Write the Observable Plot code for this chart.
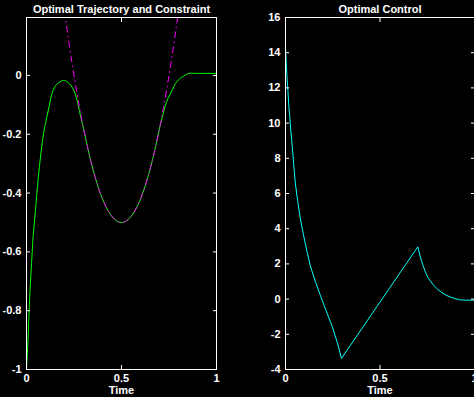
<!DOCTYPE html>
<html><head><meta charset="utf-8">
<script src="https://cdn.jsdelivr.net/npm/d3@7"></script>
<script src="https://cdn.jsdelivr.net/npm/@observablehq/plot@0.6"></script>
<style>
html,body{margin:0;padding:0;background:#000;overflow:hidden;width:474px;height:397px;}
#left{position:absolute;left:0;top:0;width:237px;height:397px;}
#right{position:absolute;left:237px;top:0;width:258px;height:397px;}
svg{max-width:none !important;display:block;}
</style></head><body>
<div id="left"></div><div id="right"></div>
<script>
// ---- data ----
const trajT = [0, 0.004, 0.008, 0.012, 0.018, 0.023, 0.03, 0.035, 0.042, 0.049, 0.061, 0.076, 0.093, 0.102, 0.115, 0.135, 0.15, 0.17, 0.195, 0.215, 0.235, 0.255, 0.27, 0.287, 0.30, 0.32, 0.34, 0.36, 0.38, 0.40, 0.42, 0.44, 0.46, 0.48, 0.50, 0.52, 0.54, 0.56, 0.58, 0.60, 0.62, 0.64, 0.66, 0.68, 0.70, 0.709, 0.72, 0.732, 0.745, 0.758, 0.77, 0.785, 0.80, 0.82, 0.84, 0.855, 0.9, 1.0];
const trajY = [-1, -0.95, -0.9, -0.83, -0.74, -0.68, -0.6, -0.547, -0.495, -0.445, -0.355, -0.264, -0.185, -0.157, -0.118, -0.06, -0.038, -0.024, -0.017, -0.022, -0.035, -0.06, -0.095, -0.146, -0.18, -0.241, -0.295, -0.343, -0.385, -0.42, -0.449, -0.471, -0.487, -0.497, -0.5, -0.497, -0.487, -0.471, -0.449, -0.42, -0.385, -0.343, -0.295, -0.241, -0.18, -0.157, -0.128, -0.1, -0.078, -0.061, -0.045, -0.027, -0.015, -0.005, 0.003, 0.007, 0.007, 0.007];

const conT = [0.18, 0.20, 0.22, 0.24, 0.26, 0.28, 0.30, 0.32, 0.34, 0.36, 0.38, 0.40, 0.42, 0.44, 0.46, 0.48, 0.50, 0.52, 0.54, 0.56, 0.58, 0.60, 0.62, 0.64, 0.66, 0.68, 0.70, 0.72, 0.74, 0.76, 0.78, 0.80, 0.82];
const conY = [0.319, 0.22, 0.127, 0.041, -0.039, -0.113, -0.18, -0.241, -0.295, -0.343, -0.385, -0.42, -0.449, -0.471, -0.487, -0.497, -0.5, -0.497, -0.487, -0.471, -0.449, -0.42, -0.385, -0.343, -0.295, -0.241, -0.18, -0.113, -0.039, 0.041, 0.127, 0.22, 0.319];

const ctrlT = [0, 0.003, 0.008, 0.013, 0.018, 0.023, 0.028, 0.036, 0.043, 0.052, 0.064, 0.078, 0.096, 0.114, 0.131, 0.158, 0.185, 0.211, 0.247, 0.275, 0.296, 0.70, 0.712, 0.726, 0.74, 0.752, 0.779, 0.80, 0.823, 0.85, 0.876, 0.90, 0.92, 0.95, 1.0];
const ctrlY = [14.3, 13.6, 12.6, 11.8, 10.9, 10.3, 9.6, 8.65, 7.7, 6.6, 5.6, 4.6, 3.6, 2.7, 1.9, 1.0, 0.2, -0.55, -1.55, -2.5, -3.37, 2.97, 2.45, 1.95, 1.55, 1.25, 0.85, 0.6, 0.4, 0.22, 0.1, 0.02, -0.04, -0.06, -0.06];

const xTicks = [0, 0.5, 1];
const leftYTicks = [-1, -0.8, -0.6, -0.4, -0.2, 0];
const rightYTicks = [-4, -2, 0, 2, 4, 6, 8, 10, 12, 14, 16];
const leftTitle = "Optimal Trajectory and Constraint";
const rightTitle = "Optimal Control";
const xLabel = "Time";

// ---- helpers ----
const fmt = d => String(d);
const style = {background: "black", color: "white", fontFamily: "'Liberation Sans', Arial, Helvetica, sans-serif", fontSize: "11px", fontWeight: "bold", maxWidth: "none"};

function frameMarks(yTicks, title) {
  return [
    Plot.axisY(yTicks, {anchor: "left", tickSize: 4, dx: 4, fill: "none", stroke: "white", label: null}),
    Plot.axisY(yTicks, {anchor: "right", tickSize: 4, dx: -4, fill: "none", stroke: "white", label: null}),
    Plot.axisY(yTicks, {anchor: "left", tickSize: 0, tickPadding: 5, tickFormat: fmt, fill: "white", label: null}),
    Plot.axisX(xTicks, {anchor: "bottom", tickSize: 4, dy: -4, fill: "none", stroke: "white", label: null}),
    Plot.axisX(xTicks, {anchor: "top", tickSize: 4, dy: 4, fill: "none", stroke: "white", label: null}),
    Plot.axisX(xTicks, {anchor: "bottom", tickSize: 0, tickPadding: 5, tickFormat: fmt, fill: "white", label: null}),
    Plot.frame({stroke: "white"}),
    Plot.text([title], {frameAnchor: "top", dy: -12, fill: "white", fontWeight: "bold", fontSize: 11}),
    Plot.text([xLabel], {frameAnchor: "bottom", dy: 24, fill: "white", fontWeight: "bold", fontSize: 11})
  ];
}

const traj = trajT.map((t, i) => ({t, y: trajY[i]}));
const con = conT.map((t, i) => ({t, y: conY[i]}));
const ctrl = ctrlT.map((t, i) => ({t, y: ctrlY[i]}));

const left = Plot.plot({
  width: 237, height: 397,
  marginLeft: 26, marginRight: 21, marginTop: 17, marginBottom: 28,
  style,
  x: {domain: [0, 1], axis: null},
  y: {domain: [-1, 0.197], axis: null},
  marks: [
    Plot.line(traj, {x: "t", y: "y", stroke: "#00ff00", strokeWidth: 1, curve: "catmull-rom", clip: true}),
    Plot.line(con, {x: "t", y: "y", stroke: "#ff00ff", strokeWidth: 1, strokeDasharray: "6,4,1,4", curve: "catmull-rom", clip: true}),
    ...frameMarks(leftYTicks, leftTitle)
  ]
});
document.getElementById("left").appendChild(left);

const right = Plot.plot({
  width: 258, height: 397,
  marginLeft: 48, marginRight: 21, marginTop: 17, marginBottom: 28,
  style,
  x: {domain: [0, 1], axis: null},
  y: {domain: [-4, 16], axis: null},
  marks: [
    Plot.line(ctrl, {x: "t", y: "y", stroke: "#00ffff", strokeWidth: 1, clip: true}),
    ...frameMarks(rightYTicks, rightTitle)
  ]
});
document.getElementById("right").appendChild(right);
</script>
</body></html>
